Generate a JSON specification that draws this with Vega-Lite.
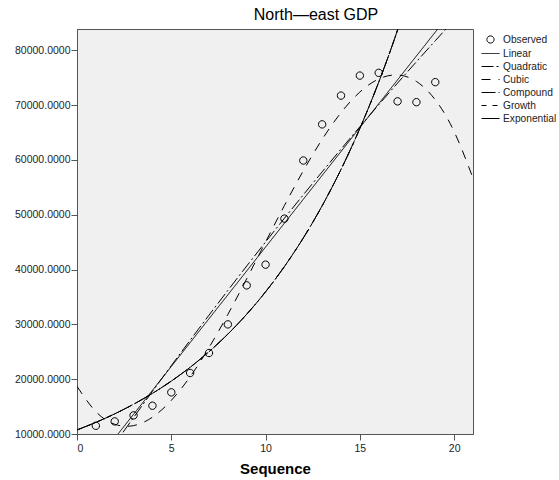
{
  "$schema": "https://vega.github.io/schema/vega-lite/v6.json",
  "width": 396,
  "height": 405,
  "autosize": {"type": "none"},
  "padding": {"left": 77, "top": 29, "right": 86, "bottom": 46},
  "background": "white",
  "title": {"text": "North—east GDP", "fontSize": 16, "fontWeight": "normal", "color": "#000", "anchor": "middle", "dx": 41, "offset": 6},
  "config": {
    "font": "Liberation Sans",
    "view": {"fill": "#f0f0f0", "stroke": "#555555", "strokeWidth": 1},
    "axis": {"grid": false, "domainColor": "#555555", "tickColor": "#555555", "tickSize": 6, "labelColor": "#222222", "labelFontSize": 10.5, "labelFont": "Liberation Sans"}
  },
  "datasets": {
    "obs": [
      {"x": 1, "y": 11500, "series": "Observed"},
      {"x": 2, "y": 12300, "series": "Observed"},
      {"x": 3, "y": 13400, "series": "Observed"},
      {"x": 4, "y": 15160, "series": "Observed"},
      {"x": 5, "y": 17600, "series": "Observed"},
      {"x": 6, "y": 21130, "series": "Observed"},
      {"x": 7, "y": 24780, "series": "Observed"},
      {"x": 8, "y": 30000, "series": "Observed"},
      {"x": 9, "y": 37120, "series": "Observed"},
      {"x": 10, "y": 40900, "series": "Observed"},
      {"x": 11, "y": 49300, "series": "Observed"},
      {"x": 12, "y": 59900, "series": "Observed"},
      {"x": 13, "y": 66500, "series": "Observed"},
      {"x": 14, "y": 71750, "series": "Observed"},
      {"x": 15, "y": 75400, "series": "Observed"},
      {"x": 16, "y": 75900, "series": "Observed"},
      {"x": 17, "y": 70700, "series": "Observed"},
      {"x": 18, "y": 70550, "series": "Observed"},
      {"x": 19, "y": 74200, "series": "Observed"}
    ],
    "fits": [
      {"x": 0, "y": 523, "series": "Linear"},
      {"x": 3, "y": 13599, "series": "Linear"},
      {"x": 6, "y": 26675, "series": "Linear"},
      {"x": 9, "y": 39751, "series": "Linear"},
      {"x": 12, "y": 52827, "series": "Linear"},
      {"x": 15, "y": 65904, "series": "Linear"},
      {"x": 18, "y": 78980, "series": "Linear"},
      {"x": 21, "y": 92056, "series": "Linear"},
      {"x": 0, "y": -1649, "series": "Quadratic"},
      {"x": 1, "y": 3300, "series": "Quadratic"},
      {"x": 2, "y": 8185, "series": "Quadratic"},
      {"x": 3, "y": 13010, "series": "Quadratic"},
      {"x": 4, "y": 17772, "series": "Quadratic"},
      {"x": 5, "y": 22471, "series": "Quadratic"},
      {"x": 6, "y": 27110, "series": "Quadratic"},
      {"x": 7, "y": 31686, "series": "Quadratic"},
      {"x": 8, "y": 36200, "series": "Quadratic"},
      {"x": 9, "y": 40651, "series": "Quadratic"},
      {"x": 10, "y": 45041, "series": "Quadratic"},
      {"x": 11, "y": 49369, "series": "Quadratic"},
      {"x": 12, "y": 53634, "series": "Quadratic"},
      {"x": 13, "y": 57838, "series": "Quadratic"},
      {"x": 14, "y": 61980, "series": "Quadratic"},
      {"x": 15, "y": 66059, "series": "Quadratic"},
      {"x": 16, "y": 70076, "series": "Quadratic"},
      {"x": 17, "y": 74032, "series": "Quadratic"},
      {"x": 18, "y": 77925, "series": "Quadratic"},
      {"x": 19, "y": 81756, "series": "Quadratic"},
      {"x": 20, "y": 85525, "series": "Quadratic"},
      {"x": 21, "y": 89232, "series": "Quadratic"},
      {"x": 0, "y": 18693, "series": "Cubic"},
      {"x": 1, "y": 14078, "series": "Cubic"},
      {"x": 2, "y": 11778, "series": "Cubic"},
      {"x": 3, "y": 11530, "series": "Cubic"},
      {"x": 4, "y": 13069, "series": "Cubic"},
      {"x": 5, "y": 16131, "series": "Cubic"},
      {"x": 6, "y": 20453, "series": "Cubic"},
      {"x": 7, "y": 25768, "series": "Cubic"},
      {"x": 8, "y": 31814, "series": "Cubic"},
      {"x": 9, "y": 38326, "series": "Cubic"},
      {"x": 10, "y": 45041, "series": "Cubic"},
      {"x": 11, "y": 51694, "series": "Cubic"},
      {"x": 12, "y": 58020, "series": "Cubic"},
      {"x": 13, "y": 63756, "series": "Cubic"},
      {"x": 14, "y": 68637, "series": "Cubic"},
      {"x": 15, "y": 72399, "series": "Cubic"},
      {"x": 16, "y": 74779, "series": "Cubic"},
      {"x": 17, "y": 75512, "series": "Cubic"},
      {"x": 18, "y": 74332, "series": "Cubic"},
      {"x": 19, "y": 70978, "series": "Cubic"},
      {"x": 20, "y": 65183, "series": "Cubic"},
      {"x": 21, "y": 56685, "series": "Cubic"},
      {"x": 0, "y": 10740, "series": "Compound"},
      {"x": 1, "y": 12119, "series": "Compound"},
      {"x": 2, "y": 13675, "series": "Compound"},
      {"x": 3, "y": 15431, "series": "Compound"},
      {"x": 4, "y": 17412, "series": "Compound"},
      {"x": 5, "y": 19647, "series": "Compound"},
      {"x": 6, "y": 22170, "series": "Compound"},
      {"x": 7, "y": 25016, "series": "Compound"},
      {"x": 8, "y": 28228, "series": "Compound"},
      {"x": 9, "y": 31853, "series": "Compound"},
      {"x": 10, "y": 35942, "series": "Compound"},
      {"x": 11, "y": 40557, "series": "Compound"},
      {"x": 12, "y": 45764, "series": "Compound"},
      {"x": 13, "y": 51640, "series": "Compound"},
      {"x": 14, "y": 58270, "series": "Compound"},
      {"x": 15, "y": 65751, "series": "Compound"},
      {"x": 16, "y": 74193, "series": "Compound"},
      {"x": 17, "y": 83719, "series": "Compound"},
      {"x": 18, "y": 94467, "series": "Compound"},
      {"x": 0, "y": 10740, "series": "Growth"},
      {"x": 1, "y": 12119, "series": "Growth"},
      {"x": 2, "y": 13675, "series": "Growth"},
      {"x": 3, "y": 15431, "series": "Growth"},
      {"x": 4, "y": 17412, "series": "Growth"},
      {"x": 5, "y": 19647, "series": "Growth"},
      {"x": 6, "y": 22170, "series": "Growth"},
      {"x": 7, "y": 25016, "series": "Growth"},
      {"x": 8, "y": 28228, "series": "Growth"},
      {"x": 9, "y": 31853, "series": "Growth"},
      {"x": 10, "y": 35942, "series": "Growth"},
      {"x": 11, "y": 40557, "series": "Growth"},
      {"x": 12, "y": 45764, "series": "Growth"},
      {"x": 13, "y": 51640, "series": "Growth"},
      {"x": 14, "y": 58270, "series": "Growth"},
      {"x": 15, "y": 65751, "series": "Growth"},
      {"x": 16, "y": 74193, "series": "Growth"},
      {"x": 17, "y": 83719, "series": "Growth"},
      {"x": 18, "y": 94467, "series": "Growth"},
      {"x": 0, "y": 10740, "series": "Exponential"},
      {"x": 1, "y": 12119, "series": "Exponential"},
      {"x": 2, "y": 13675, "series": "Exponential"},
      {"x": 3, "y": 15431, "series": "Exponential"},
      {"x": 4, "y": 17412, "series": "Exponential"},
      {"x": 5, "y": 19647, "series": "Exponential"},
      {"x": 6, "y": 22170, "series": "Exponential"},
      {"x": 7, "y": 25016, "series": "Exponential"},
      {"x": 8, "y": 28228, "series": "Exponential"},
      {"x": 9, "y": 31853, "series": "Exponential"},
      {"x": 10, "y": 35942, "series": "Exponential"},
      {"x": 11, "y": 40557, "series": "Exponential"},
      {"x": 12, "y": 45764, "series": "Exponential"},
      {"x": 13, "y": 51640, "series": "Exponential"},
      {"x": 14, "y": 58270, "series": "Exponential"},
      {"x": 15, "y": 65751, "series": "Exponential"},
      {"x": 16, "y": 74193, "series": "Exponential"},
      {"x": 17, "y": 83719, "series": "Exponential"},
      {"x": 18, "y": 94467, "series": "Exponential"}
    ]
  },
  "layer": [
    {
      "data": {"name": "fits"},
      "mark": {"type": "line", "clip": true, "interpolate": "natural", "color": "black", "strokeWidth": 1},
      "encoding": {
        "x": {"field": "x", "type": "quantitative", "scale": {"domain": [0, 21], "nice": false, "zero": false},
              "axis": {"title": "Sequence", "values": [0, 5, 10, 15, 20], "titleFontSize": 15, "titleFontWeight": "bold", "titleColor": "#000", "titlePadding": 8, "labelPadding": 3}},
        "y": {"field": "y", "type": "quantitative", "scale": {"domain": [10000, 83900], "nice": false, "zero": false},
              "axis": {"title": null, "values": [10000, 20000, 30000, 40000, 50000, 60000, 70000, 80000], "format": ".4f", "labelPadding": 1}},
        "strokeDash": {"field": "series", "type": "nominal",
          "scale": {"domain": ["Observed", "Linear", "Quadratic", "Cubic", "Compound", "Growth", "Exponential"],
                    "range": [[1, 0], [1, 0], [12, 3, 2, 3], [9, 8], [14, 3, 3, 3], [5, 6], [25, 3, 1, 3]]},
          "legend": {"orient": "none", "legendX": 407, "legendY": 4, "title": null, "padding": 0, "labelFontSize": 10.2, "labelColor": "#222222", "symbolSize": 144, "rowPadding": 1, "labelOffset": 6, "symbolStrokeColor": "black", "symbolStrokeWidth": 1}}
      }
    },
    {
      "data": {"name": "obs"},
      "mark": {"type": "point", "filled": false, "color": "black", "strokeWidth": 1, "size": 152, "opacity": 1},
      "encoding": {
        "x": {"field": "x", "type": "quantitative"},
        "y": {"field": "y", "type": "quantitative"},
        "shape": {"field": "series", "type": "nominal",
          "scale": {"domain": ["Observed", "Linear", "Quadratic", "Cubic", "Compound", "Growth", "Exponential"],
                    "range": ["M -0.6 0 A 0.6 0.6 0 1 0 0.6 0 A 0.6 0.6 0 1 0 -0.6 0 Z", "M -1.5 0 L 1.5 0", "M -1.5 0 L 1.5 0", "M -1.5 0 L 1.5 0", "M -1.5 0 L 1.5 0", "M -1.5 0 L 1.5 0", "M -1.5 0 L 1.5 0"]},
          "legend": {"orient": "none", "legendX": 407, "legendY": 4, "title": null, "padding": 0, "labelFontSize": 10.2, "labelColor": "#222222", "symbolSize": 144, "rowPadding": 1, "labelOffset": 6, "symbolStrokeColor": "black", "symbolStrokeWidth": 1}}
      }
    }
  ]
}
